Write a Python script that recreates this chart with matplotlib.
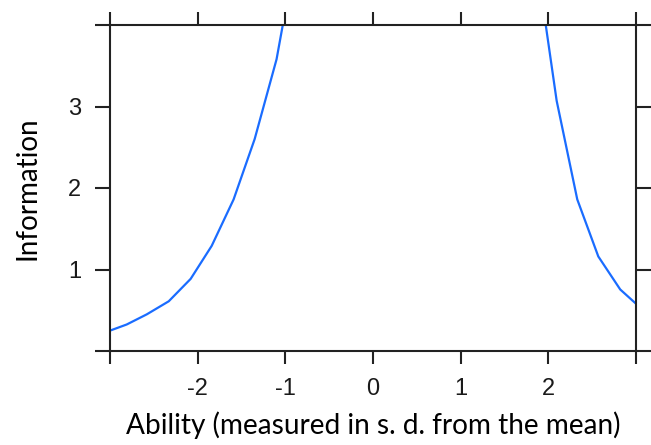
import matplotlib
matplotlib.use("Agg")
import matplotlib.pyplot as plt

# Test information curve; values above 4 are clipped by the axes
ability = [-3.0, -2.81, -2.58, -2.33, -2.08, -1.84, -1.59, -1.35, -1.10, -0.86,
           1.85, 2.095, 2.33, 2.57, 2.82, 3.0]
information = [0.25, 0.325, 0.45, 0.61, 0.885, 1.29, 1.86, 2.6, 3.58, 5.0,
               4.9, 3.07, 1.86, 1.16, 0.755, 0.58]

left_x = ability[:10]
left_y = information[:10]
right_x = ability[10:]
right_y = information[10:]

x_ticks = [-3, -2, -1, 0, 1, 2, 3]
x_labels = ["", "-2", "-1", "0", "1", "2", ""]
y_ticks = [0, 1, 2, 3, 4]
y_labels = ["", "1", "2", "3", ""]

fig = plt.figure(figsize=(6.51, 4.45), dpi=100)
ax = fig.add_axes([110/651, 94/445, 526/651, 326/445])

blue = "#1a6cff"
ax.plot(left_x, left_y, color=blue, lw=1.6, solid_joinstyle="miter")
ax.plot(right_x, right_y, color=blue, lw=1.6, solid_joinstyle="miter")

ax.set_xlim(-3, 3)
ax.set_ylim(0, 4)
ax.set_xticks(x_ticks)
ax.set_xticklabels(x_labels, fontsize=17, family="Liberation Sans", color="#1a1a1a")
ax.set_yticks(y_ticks)
ax.set_yticklabels(y_labels, fontsize=17, family="Liberation Sans", color="#1a1a1a")
ax.tick_params(axis="x", which="both", direction="out", length=9.5, width=1.5,
               top=True, bottom=True, labeltop=False, pad=10, color="#222222")
ax.tick_params(axis="y", which="both", direction="out", length=10.8, width=1.5,
               left=True, right=True, labelright=False, pad=10, color="#222222")
for s in ax.spines.values():
    s.set_linewidth(1.5)
    s.set_color("#222222")

ax.set_ylabel("Information", fontsize=20, family="Lato", labelpad=20)
ax.set_xlabel("Ability (measured in s. d. from the mean)", fontsize=20.2,
              family="Lato", labelpad=8)

fig.savefig("out.png", dpi=100)
